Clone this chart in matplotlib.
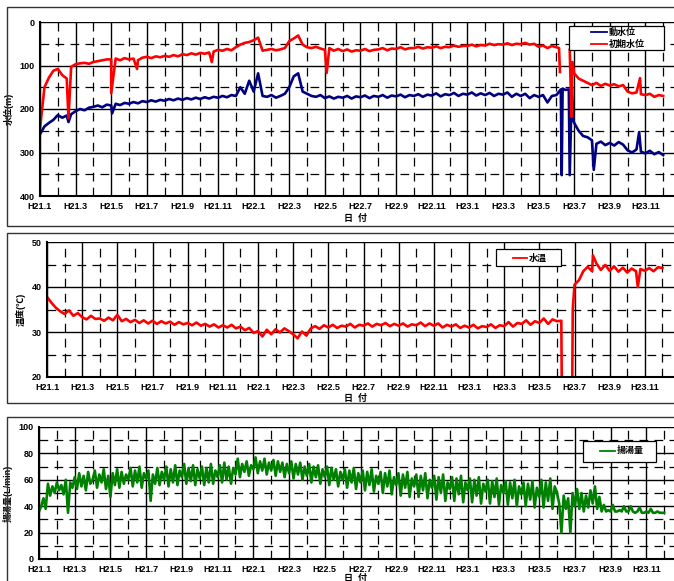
import numpy as np
import matplotlib
matplotlib.use("Agg")
from matplotlib import pyplot as plt
from matplotlib.patches import Rectangle
from matplotlib.lines import Line2D

plt.rcParams["font.family"] = ["Liberation Sans", "Noto Sans CJK JP", "DejaVu Sans"]
plt.rcParams["font.weight"] = "bold"

# months since H21.1; levels / temperature sampled every quarter month,
# pumping rate every eighth of a month
STEP = 0.25
STEP_PUMP = 0.125

# 初期水位 (m), 4 samples per month, rows = months H21.1 ...
initial_level = [
    245, 150, 128, 112,   108, 122, 130, 103,   97, 95, 94, 96,   92, 90, 88, 86,
    86, 84, 88, 83,       86, 84, 88, 82,       80, 83, 79, 81,   78, 80, 76, 79,
    74, 76, 72, 75,       71, 73, 70, 68,       64, 66, 62, 65,   58, 52, 48, 46,
    42, 36, 66, 64,       62, 65, 63, 60,       44, 38, 31, 52,   58, 60, 57, 61,
    64, 60, 66, 62,       67, 63, 68, 65,       66, 62, 67, 64,   63, 60, 65, 61,
    62, 58, 63, 60,       60, 57, 61, 58,       59, 56, 60, 57,   58, 54, 57, 55,
    55, 52, 56, 53,       54, 50, 53, 51,       52, 49, 53, 50,   51, 48, 52, 50,
    57, 54, 60, 55,       58, np.nan, np.nan, 64,   118, 130, 135, 140,   145, 140, 147, 142,
    146, 143, 148, 145,   160, 164, 162, 166,   168, 165, 172, 168,   170,
]
initial_spike_t = [1.6, 4.0, 5.45, 9.65, 16.1, 29.15, 29.2, 29.85, 29.9, 33.7]
initial_spike_v = [221, 164, 108, 92, 117, 60, 115, 218, 92, 129]

# 動水位 (m)
dynamic_level = [
    258, 240, 232, 225,   214, 220, 215, 212,   205, 200, 203, 197,   195, 192, 196, 190,
    192, 188, 191, 186,   188, 184, 187, 182,   184, 180, 183, 179,   181, 177, 180, 176,
    179, 175, 178, 174,   177, 173, 176, 172,   174, 170, 173, 168,   170, 150, 165, 135,
    160, 118, 170, 172,   168, 174, 170, 165,   150, 125, 118, 160,   165, 170, 172, 168,
    175, 171, 176, 172,   174, 170, 176, 171,   173, 169, 175, 170,   172, 168, 174, 169,
    171, 167, 173, 168,   170, 166, 172, 167,   169, 164, 171, 166,   168, 163, 170, 165,
    167, 162, 169, 164,   168, 163, 170, 165,   167, 162, 172, 165,   170, 165, 175, 168,
    172, 168, 185, 170,   168, 155, 156, 352,   232, 250, 262, 265,   272, 280, 275, 283,
    278, 284, 276, 282,   295, 300, 293, 298,   302, 296, 304, 299,   306,
]
dynamic_spike_t = [1.6, 4.05, 29.3, 29.35, 29.7, 29.87, 29.95, 31.1, 33.65]
dynamic_spike_v = [230, 210, 352, 153, 155, 150, 225, 340, 253]

# 水温 (℃)
water_temp = [
    37.8, 36.5, 35.4, 34.6,   34.0, 34.8, 33.6, 34.2,   33.3, 32.8, 33.6, 32.9,   33.0, 32.5, 33.2, 32.6,
    33.8, 32.4, 32.9, 32.2,   32.7, 32.0, 32.6, 31.9,   32.5, 31.8, 32.4, 31.9,   32.3, 31.6, 32.2, 31.7,
    32.0, 31.5, 32.1, 31.4,   31.8, 31.2, 31.7, 31.0,   31.5, 31.0, 31.6, 30.8,   31.2, 30.4, 30.9, 29.8,
    30.2, 29.0, 30.5, 29.5,   30.6, 29.9, 30.8, 30.2,   29.5, 28.6, 30.1, 29.2,   30.8, 31.3, 30.7, 31.5,
    31.0, 31.6, 30.9, 31.4,   31.2, 31.8, 31.0, 31.6,   31.4, 31.9, 31.2, 31.8,   31.5, 32.0, 31.3, 31.8,
    31.4, 31.9, 31.2, 31.7,   31.5, 32.1, 31.3, 31.9,   31.4, 31.9, 31.0, 31.6,   31.2, 31.7, 30.9, 31.4,
    31.0, 31.6, 30.8, 31.3,   31.1, 31.7, 30.9, 31.5,   31.3, 32.2, 31.2, 32.0,   31.8, 32.6, 31.6, 32.4,
    32.0, 33.0, 31.8, 32.8,   32.4, 32.5, 5.0, 5.0,   40.5, 41.5, 43.5, 44.5,   43.5, 45.2, 43.8, 44.9,
    43.6, 44.6, 43.4, 44.3,   43.2, 44.1, 43.5, 44.0,   43.6, 44.2, 43.5, 44.4,   44.2,
]
temp_spike_t = [29.3, 29.85, 29.9, 31.05, 33.6]
temp_spike_v = [5.0, 5.0, 35.0, 47.0, 40.0]

# 揚湯量 (L/min), 8 samples per month
pump_rate = [
    36, 40, 46, 38, 57, 48, 55, 50,   58, 52, 56, 49, 60, 35, 58, 54,
    62, 53, 65, 55, 63, 52, 66, 57,   60, 67, 54, 64, 58, 68, 53, 63,
    47, 65, 56, 68, 54, 66, 57, 64,   60, 69, 55, 67, 58, 70, 54, 65,
    61, 67, 44, 64, 57, 69, 56, 66,   60, 70, 55, 68, 58, 71, 56, 67,
    62, 72, 57, 69, 59, 71, 56, 68,   61, 70, 56, 69, 58, 72, 57, 67,
    62, 71, 58, 73, 60, 70, 57, 69,   64, 76, 62, 72, 66, 74, 63, 71,
    68, 77, 65, 74, 67, 76, 64, 73,   67, 75, 63, 74, 66, 73, 62, 72,
    65, 74, 61, 72, 64, 73, 60, 70,   63, 72, 58, 70, 62, 71, 57, 68,
    62, 70, 56, 69, 60, 68, 55, 66,   60, 68, 54, 67, 58, 69, 53, 65,
    58, 67, 52, 66, 56, 68, 51, 63,   57, 66, 50, 65, 55, 67, 49, 62,
    56, 65, 48, 64, 54, 66, 47, 61,   55, 64, 47, 63, 52, 65, 46, 60,
    54, 63, 45, 62, 50, 64, 44, 58,   53, 62, 44, 61, 49, 63, 43, 58,
    52, 61, 43, 60, 48, 62, 42, 57,   51, 60, 42, 59, 47, 61, 41, 56,
    50, 59, 41, 58, 46, 60, 40, 55,   49, 58, 40, 57, 45, 59, 39, 54,
    47, 60, 39, 58, 44, 61, 38, 55,   50, 42, 20, 48, 38, 46, 20, 50,
    40, 53, 38, 50, 36, 48, 39, 52,   42, 55, 38, 47, 36, 41, 36, 37,
    36, 41, 36, 36, 37, 36, 40, 36,   36, 40, 36, 35, 36, 39, 35, 35,
    36, 35, 38, 35, 35, 36, 35, 35,   35,
]

tick_labels = ["H21.1", "H21.3", "H21.5", "H21.7", "H21.9", "H21.11",
               "H22.1", "H22.3", "H22.5", "H22.7", "H22.9", "H22.11",
               "H23.1", "H23.3", "H23.5", "H23.7", "H23.9", "H23.11"]

FIG_W, FIG_H = 674, 581


def merge(base, spike_t=(), spike_v=(), step=STEP):
    """Combine the regular samples with the extra spike samples, sorted by time."""
    t = np.concatenate([np.arange(len(base)) * step, spike_t])
    v = np.concatenate([np.asarray(base, dtype=float), spike_v])
    order = np.argsort(t, kind="stable")
    return t[order], v[order]


def fx(x):
    return x / FIG_W


def fy(y):
    return 1 - y / FIG_H


def px_axes(fig, left, top, right, bottom):
    """Add axes given pixel box (top-left origin)."""
    return fig.add_axes([fx(left), fy(bottom), (right - left) / FIG_W, (bottom - top) / FIG_H])


def px_frame(fig, left, top, right, bottom, color="#333333", lw=1.0):
    fig.patches.append(Rectangle((fx(left), fy(bottom)), (right - left) / FIG_W, (bottom - top) / FIG_H,
                                 transform=fig.transFigure, fill=False, edgecolor=color, lw=lw))


def style_axes(ax, yticks, yminor, ylim, ylabel, xlabel_y):
    ax.set_xlim(0, 36)
    ax.set_xticks(np.arange(0, 36, 2))
    ax.set_xticks(np.arange(1, 36, 2), minor=True)
    ax.set_xticklabels(tick_labels)
    ax.set_yticks(yticks)
    ax.set_yticks(yminor, minor=True)
    ax.set_ylim(*ylim)
    ax.grid(which="major", color="black", lw=1.0, ls="-")
    ax.grid(which="minor", color="black", lw=0.9, ls=(0, (7, 5)))
    ax.set_axisbelow(True)
    ax.tick_params(which="both", length=0, labelsize=6.5, pad=4)
    for lab in ax.get_xticklabels() + ax.get_yticklabels():
        lab.set_fontweight("bold")
    for side in ("left", "bottom"):
        ax.spines[side].set_linewidth(1.5)
    ax.spines["top"].set_visible(False)
    ax.spines["right"].set_visible(False)
    ax.set_ylabel(ylabel, fontsize=6.5, fontweight="bold", labelpad=4)
    ax.figure.text(fx(355), fy(xlabel_y), "日  付", fontsize=6.5, fontweight="bold",
                   ha="center", va="center")


def add_legend(fig, entries, left, top, right, bottom, line_x0, line_x1):
    """Hand drawn legend box, entries = [(label, color, y_px), ...]."""
    fig.patches.append(Rectangle((fx(left), fy(bottom)), (right - left) / FIG_W, (bottom - top) / FIG_H,
                                 transform=fig.transFigure, facecolor="white", edgecolor="black", lw=0.9,
                                 zorder=5))
    for label, color, y in entries:
        fig.lines.append(Line2D([fx(line_x0), fx(line_x1)], [fy(y), fy(y)], transform=fig.transFigure,
                                color=color, lw=1.3, zorder=6))
        fig.text(fx(line_x1 + 1.5), fy(y), label, fontsize=6.5, fontweight="bold", va="center", ha="left",
                 zorder=6)


fig = plt.figure(figsize=(FIG_W / 100, FIG_H / 100), dpi=100)

px_frame(fig, 7, 7, 700, 226)
px_frame(fig, 7, 233, 700, 403)
px_frame(fig, 7, 417, 700, 600)

# water level
ax1 = px_axes(fig, 40, 22, 681, 196)
t, v = merge(dynamic_level, dynamic_spike_t, dynamic_spike_v)
ax1.plot(t, v, color="#000080", lw=1.9)
t, v = merge(initial_level, initial_spike_t, initial_spike_v)
ax1.plot(t, v, color="#ff0000", lw=1.9)
style_axes(ax1, [0, 100, 200, 300, 400], [50, 150, 250, 350], (400, 0), "水位(m)", 218)
add_legend(fig, [("動水位", "#000080", 32), ("初期水位", "#ff0000", 44)], 569, 26, 664, 50, 591, 607)

# water temperature
ax2 = px_axes(fig, 47, 242, 680, 377)
t, v = merge(water_temp, temp_spike_t, temp_spike_v)
ax2.plot(t, v, color="#ff0000", lw=1.9)
style_axes(ax2, [20, 30, 40, 50], [25, 35, 45], (20, 50), "温度(℃)", 398)
add_legend(fig, [("水温", "#ff0000", 258)], 496, 249, 561, 266, 513, 527)

# pumping rate
ax3 = px_axes(fig, 39, 427, 682, 559)
t, v = merge(pump_rate, step=STEP_PUMP)
ax3.plot(t, v, color="#008000", lw=1.9)
style_axes(ax3, [0, 20, 40, 60, 80, 100], [10, 30, 50, 70, 90], (0, 100), "揚湯量(L/min)", 578)
add_legend(fig, [("揚湯量", "#008000", 451)], 583, 441, 656, 462, 600, 615)

fig.savefig("out.png", dpi=100)
plt.close(fig)
